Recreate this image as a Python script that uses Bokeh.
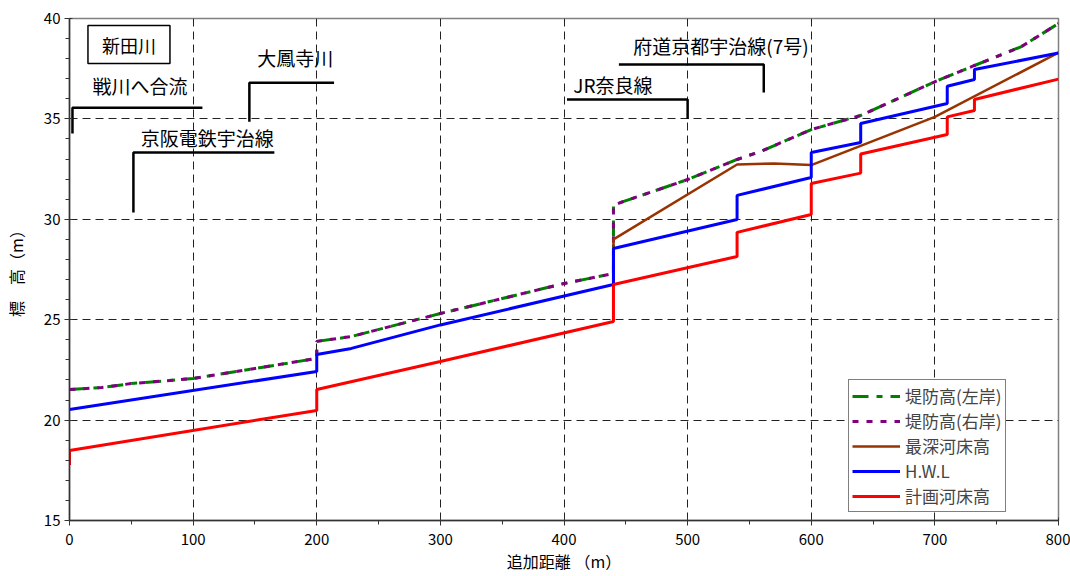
from bokeh.plotting import figure
from bokeh.models import Range1d, SingleIntervalTicker, Legend, LegendItem, Label, ColumnDataSource
from bokeh.core.properties import value
from bokeh.embed import file_html
from bokeh.resources import INLINE

FONT = "Noto Sans CJK JP"

# ---- data ----
dike_left_x = [0, 26, 50, 100, 150, 200, 200, 228, 300, 400, 440, 440, 446, 500, 540, 560, 600, 640, 700, 732, 770, 800]
dike_left_y = [21.52, 21.62, 21.82, 22.07, 22.57, 23.07, 23.92, 24.16, 25.31, 26.80, 27.30, 30.69, 30.84, 31.98, 32.98, 33.40, 34.47, 35.17, 36.85, 37.66, 38.60, 39.75]

dike_right_x = [0, 26, 50, 100, 150, 200, 200, 228, 300, 400, 440, 440, 446, 500, 540, 560, 600, 640, 700, 732, 770, 800]
dike_right_y = [21.52, 21.62, 21.82, 22.07, 22.57, 23.07, 23.92, 24.16, 25.31, 26.80, 27.30, 30.69, 30.84, 31.98, 32.98, 33.40, 34.47, 35.17, 36.85, 37.66, 38.60, 39.75]

deep_x = [440, 440, 540, 570, 600, 700, 800]
deep_y = [26.75, 29.0, 32.73, 32.78, 32.70, 35.10, 38.30]

hwl_x = [0, 200, 200, 228, 300, 440, 440, 540, 540, 600, 600, 640, 640, 710, 710, 732, 732, 800]
hwl_y = [20.53, 22.42, 23.27, 23.57, 24.74, 26.75, 28.55, 29.99, 31.19, 32.08, 33.33, 33.82, 34.77, 35.77, 36.63, 36.96, 37.46, 38.28]

plan_x = [0, 0, 200, 200, 300, 440, 440, 540, 540, 600, 600, 640, 640, 710, 710, 732, 732, 800]
plan_y = [17.76, 18.49, 20.48, 21.52, 22.92, 24.91, 26.75, 28.15, 29.35, 30.24, 31.78, 32.30, 33.25, 34.22, 35.10, 35.42, 35.97, 36.98]

series_names = ["堤防高(左岸)", "堤防高(右岸)", "最深河床高", "H.W.L", "計画河床高"]

# annotations (crossing structures)
ann_labels = ["戦川へ合流", "大鳳寺川", "京阪電鉄宇治線", "JR奈良線", "府道京都宇治線(7号)"]
ann_text_x = [57, 182.6, 111.5, 439.6, 527]
ann_text_y = [36.68, 38.07, 34.09, 36.73, 38.67]
ann_line_x = [[2.4, 2.4, 107.5], [145.5, 145.5, 214], [51.7, 51.7, 165.7], [402.4, 500, 500], [444.4, 561.6, 561.6]]
ann_line_y = [[34.27, 35.56, 35.56], [34.86, 36.8, 36.8], [30.34, 33.33, 33.33], [35.97, 35.97, 35.0], [37.71, 37.71, 36.31]]

title_text = "新田川"
title_x, title_y = 48.1, 38.7

x_label = "追加距離 （m）"
y_label = "標　高（m）"

# ---- figure ----
p = figure(width=1070, height=576, output_backend="svg", toolbar_location=None,
           x_range=Range1d(0, 800), y_range=Range1d(15, 40),
           min_border_left=68, min_border_right=12, min_border_top=18, min_border_bottom=56)
p.outline_line_color = "#808080"
p.outline_line_width = 1.5

for ax, iv, nm in ((p.xaxis[0], 100, 2), (p.yaxis[0], 5, 5)):
    ax.ticker = SingleIntervalTicker(interval=iv, num_minor_ticks=nm)
    ax.major_tick_in = 3
    ax.major_tick_out = 5
    ax.minor_tick_in = 0
    ax.minor_tick_out = 4
    ax.axis_line_color = "#333333"
    ax.axis_line_width = 1.5
    ax.major_tick_line_color = "#333333"
    ax.minor_tick_line_color = "#333333"
    ax.major_label_text_font = FONT
    ax.major_label_text_font_size = "15px"
    ax.major_label_text_color = "#000000"
    ax.axis_label_text_font = FONT
    ax.axis_label_text_font_size = "16px"
    ax.axis_label_text_font_style = "normal"
    ax.axis_label_text_color = "#000000"

p.xaxis.axis_label = x_label
p.yaxis.axis_label = y_label
p.xaxis.major_label_standoff = 8
p.xaxis.axis_label_standoff = 1
p.yaxis.major_label_standoff = 4
p.yaxis.axis_label_standoff = 13

for g in (p.xgrid[0], p.ygrid[0]):
    g.grid_line_color = "#222222"
    g.grid_line_dash = "8 5"
    g.grid_line_width = 1

# series
r_gl = p.line(dike_left_x, dike_left_y, line_color="#008000", line_width=3, line_dash="16 8 6 8")
r_gr = p.line(dike_right_x, dike_right_y, line_color="#800080", line_width=3, line_dash="6 8")
r_br = p.line(deep_x, deep_y, line_color="#993300", line_width=2.5)
r_bl = p.line(hwl_x, hwl_y, line_color="#0000FF", line_width=3)
r_rd = p.line(plan_x, plan_y, line_color="#FF0000", line_width=3)

# annotations
for lx, ly in zip(ann_line_x, ann_line_y):
    p.line(lx, ly, line_color="#000000", line_width=2.5)
src = ColumnDataSource(dict(x=ann_text_x, y=ann_text_y, t=ann_labels))
p.text(x="x", y="y", text="t", source=src, text_font=value(FONT), text_font_size="19px",
       text_align="center", text_baseline="middle", text_color="#000000")

p.add_layout(Label(x=title_x, y=title_y, text=title_text, text_font=FONT, text_font_size="18px",
                   text_align="center", text_baseline="middle", text_color="#000000",
                   border_line_color="#000000", border_line_width=1.5,
                   background_fill_color="#ffffff",
                   padding=dict(left=14, right=14, top=6, bottom=6)))

legend = Legend(items=[LegendItem(label=n, renderers=[r]) for n, r in
                       zip(series_names, [r_gl, r_gr, r_br, r_bl, r_rd])],
                location=(779, 8), orientation="vertical")
legend.glyph_width = 48
legend.glyph_height = 20
legend.label_height = 20
legend.spacing = 0
legend.padding = 3
legend.margin = 0
legend.label_standoff = 5
legend.label_text_font = FONT
legend.label_text_font_size = "17px"
legend.border_line_color = "#000000"
legend.border_line_width = 1
legend.background_fill_alpha = 1
p.add_layout(legend, "center")

open("out.html", "w").write(file_html(p, INLINE))
